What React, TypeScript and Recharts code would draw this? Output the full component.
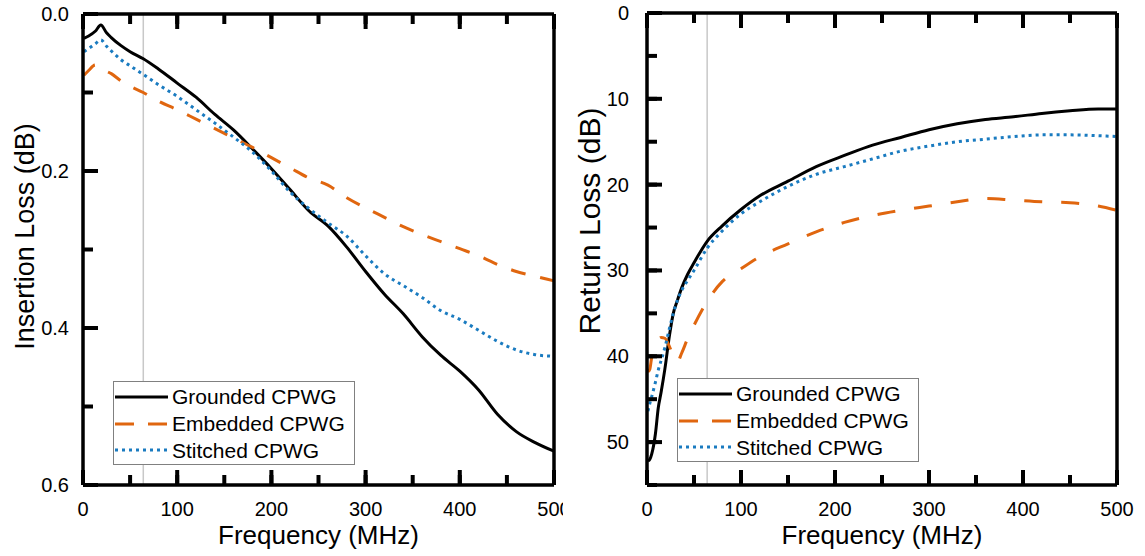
import React from 'react';
import { LineChart, Line, XAxis, YAxis, ReferenceLine, Legend, Label } from 'recharts';

const FONT = '"Liberation Sans", Arial, Helvetica, sans-serif';

// ─── Data ─────────────────────────────────────────────────────────────────────

const SERIES_NAMES = ['Grounded CPWG', 'Embedded CPWG', 'Stitched CPWG'];

// Insertion loss (dB), left panel
const IL_FREQ = [1, 6, 13, 19, 25, 30, 40, 50, 64, 80, 100, 120, 140, 160, 180, 200, 220, 240, 260, 280, 300, 320, 340, 360, 380, 400, 420, 440, 460, 480, 500];
const IL_GROUNDED = [0.031, 0.028, 0.022, 0.014, 0.024, 0.030, 0.040, 0.048, 0.057, 0.070, 0.088, 0.106, 0.128, 0.148, 0.172, 0.197, 0.224, 0.251, 0.270, 0.297, 0.328, 0.357, 0.382, 0.411, 0.435, 0.455, 0.479, 0.510, 0.532, 0.546, 0.557];
const IL_EMBEDDED = [0.078, 0.072, 0.065, 0.069, 0.073, 0.076, 0.085, 0.092, 0.100, 0.111, 0.122, 0.134, 0.146, 0.158, 0.170, 0.183, 0.196, 0.209, 0.218, 0.234, 0.247, 0.259, 0.271, 0.281, 0.290, 0.299, 0.308, 0.319, 0.328, 0.334, 0.340];
const IL_STITCHED = [0.048, 0.044, 0.038, 0.033, 0.041, 0.047, 0.058, 0.066, 0.077, 0.090, 0.105, 0.122, 0.139, 0.157, 0.176, 0.200, 0.227, 0.248, 0.266, 0.283, 0.308, 0.331, 0.346, 0.361, 0.378, 0.389, 0.403, 0.417, 0.428, 0.434, 0.436];

// Return loss (dB), right panel
const RL_FREQ = [1, 3, 5, 9, 12, 15, 19, 24, 28, 32, 37, 43, 50, 64, 80, 100, 120, 150, 180, 210, 240, 270, 300, 330, 360, 390, 420, 450, 480, 500];
const RL_GROUNDED = [52.2, 52.0, 51.4, 49.0, 46.0, 44.2, 41.5, 37.5, 35.0, 33.6, 32.0, 30.5, 29.1, 26.6, 24.8, 22.9, 21.3, 19.6, 17.9, 16.6, 15.4, 14.5, 13.6, 12.9, 12.4, 12.1, 11.7, 11.4, 11.2, 11.2];
const RL_EMBEDDED = [41.8, 41.5, 40.1, 38.5, 38.0, 37.8, 37.9, 38.9, 40.0, 40.7, 39.6, 38.0, 36.4, 33.6, 31.3, 29.8, 28.4, 26.9, 25.5, 24.4, 23.6, 23.0, 22.5, 22.0, 21.6, 21.8, 22.0, 22.1, 22.5, 23.0];
const RL_STITCHED = [46.4, 45.5, 44.7, 43.0, 41.6, 40.5, 39.0, 36.7, 35.0, 33.6, 32.3, 31.2, 30.0, 27.4, 25.4, 23.4, 22.0, 20.2, 18.8, 17.9, 17.0, 16.1, 15.5, 15.0, 14.7, 14.4, 14.2, 14.2, 14.3, 14.4];

// Axis ticks
const FREQ_TICKS = [0, 50, 100, 150, 200, 250, 300, 350, 400, 450, 500];
const IL_TICKS = [0, 0.1, 0.2, 0.3, 0.4, 0.5, 0.6];
const RL_TICKS = [0, 5, 10, 15, 20, 25, 30, 35, 40, 45, 50, 55];
const MARKER_FREQ = 64;

const buildRows = (freq: number[], g: number[], e: number[], s: number[]) =>
  freq.map((f, i) => ({ f, g: g[i], e: e[i], s: s[i] }));

const IL_ROWS = buildRows(IL_FREQ, IL_GROUNDED, IL_EMBEDDED, IL_STITCHED);
const RL_ROWS = buildRows(RL_FREQ, RL_GROUNDED, RL_EMBEDDED, RL_STITCHED);

const SERIES = [
  { key: 'g', name: SERIES_NAMES[0], color: '#000000', legendDash: undefined as string | undefined },
  { key: 'e', name: SERIES_NAMES[1], color: '#E0660F', legendDash: '19 14' },
  { key: 's', name: SERIES_NAMES[2], color: '#1A7BC0', legendDash: '3 4' },
];

// ─── Ticks (drawn inward, like the original) ──────────────────────────────────
// recharts draws every tick inward (negative tickSize); the custom tick adds
// the longer major mark and the label.

type Side = 'bottom' | 'top' | 'left' | 'right';
const MINOR_LEN = 10;
const MAJOR_LEN = 15;
const TICK_LINE = { stroke: '#000', strokeWidth: 4 };
const AXIS_LINE = { stroke: '#000', strokeWidth: 3.5 };

function tickRenderer(side: Side, isMajor: (v: number) => boolean, format?: (v: number) => string, gap = 15) {
  return (props: any) => {
    const { x, y, payload } = props;
    const v = payload.value as number;
    const major = isMajor(v);
    let d = '';
    if (side === 'bottom') d = `M${x},${y}V${y - MAJOR_LEN}`;
    if (side === 'top') d = `M${x},${y}V${y + MAJOR_LEN}`;
    if (side === 'left') d = `M${x},${y}H${x + MAJOR_LEN}`;
    if (side === 'right') d = `M${x},${y}H${x - MAJOR_LEN}`;
    const showLabel = !!format && major;
    return (
      <g>
        {major && <path d={d} stroke="#000" strokeWidth={4} fill="none" />}
        {showLabel && side === 'bottom' && (
          <text x={x} y={y + 31} textAnchor="middle" fontSize={20} fontFamily={FONT} fill="#000">
            {format!(v)}
          </text>
        )}
        {showLabel && side === 'left' && (
          <text x={x - gap} y={y + 7} textAnchor="end" fontSize={20} fontFamily={FONT} fill="#000">
            {format!(v)}
          </text>
        )}
      </g>
    );
  };
}

const freqMajor = (v: number) => v % 100 === 0;

// ─── Legend ───────────────────────────────────────────────────────────────────

function LegendBox({ lineDashes }: { lineDashes: (string | undefined)[] }) {
  return (
    <div
      style={{
        width: 242, height: 84, border: '1px solid #808080', background: '#fff',
        boxSizing: 'border-box', paddingTop: 1.5, fontFamily: FONT, fontSize: 21, color: '#000',
      }}
    >
      {SERIES.map((s, i) => (
        <div key={s.key} style={{ display: 'flex', alignItems: 'center', height: 26.7 }}>
          <svg width={57} height={26} style={{ display: 'block' }}>
            <line x1={1} y1={13} x2={54} y2={13} stroke={s.color} strokeWidth={3} strokeDasharray={lineDashes[i]} />
          </svg>
          <span style={{ marginLeft: 1, lineHeight: 1, whiteSpace: 'nowrap' }}>{s.name}</span>
        </div>
      ))}
    </div>
  );
}

// ─── Panel ────────────────────────────────────────────────────────────────────

type PanelProps = {
  rows: typeof IL_ROWS;
  width: number;
  margin: { top: number; right: number; bottom: number; left: number };
  yAxisWidth: number;
  yDomain: [number, number];
  yTicks: number[];
  yMajor: (v: number) => boolean;
  yFormat: (v: number) => string;
  yGap: number;
  yTitle: string;
  yTitleSize: number;
  yTitleX: number;
  yTitleDy: number;
  dashes: (string | undefined)[];
  legendPos: { left: number; top: number };
};

function Panel(p: PanelProps) {
  const xTitle = ({ viewBox }: any) => {
    const vb = viewBox || { x: 0, y: 0, width: 0, height: 0 };
    return (
      <text x={vb.x + vb.width / 2} y={vb.y + 59} textAnchor="middle" fontSize={26} fontFamily={FONT} fill="#000">
        Frequency (MHz)
      </text>
    );
  };
  const yTitle = ({ viewBox }: any) => {
    const vb = viewBox || { x: 0, y: 0, width: 0, height: 0 };
    const cx = vb.x + p.yTitleX;
    const cy = vb.y + vb.height / 2 + p.yTitleDy;
    return (
      <text
        x={cx} y={cy} textAnchor="middle" dominantBaseline="central"
        transform={`rotate(-90, ${cx}, ${cy})`} fontSize={p.yTitleSize} fontFamily={FONT} fill="#000"
      >
        {p.yTitle}
      </text>
    );
  };

  return (
    <LineChart width={p.width} height={556} data={p.rows} margin={p.margin}>
      <XAxis
        dataKey="f" type="number" domain={[0, 500]} ticks={FREQ_TICKS} interval={0}
        height={71} tickSize={-MINOR_LEN} tickMargin={MINOR_LEN} tickLine={TICK_LINE}
        axisLine={AXIS_LINE}
        tick={tickRenderer('bottom', freqMajor, (v) => String(v))}
      >
        <Label content={xTitle} />
      </XAxis>
      <XAxis
        xAxisId="top" orientation="top" dataKey="f" type="number" domain={[0, 500]} ticks={FREQ_TICKS}
        interval={0} height={1} tickSize={-MINOR_LEN} tickMargin={MINOR_LEN} tickLine={TICK_LINE}
        axisLine={AXIS_LINE}
        tick={tickRenderer('top', freqMajor)}
      />
      <YAxis
        type="number" domain={p.yDomain} ticks={p.yTicks} reversed interval={0}
        width={p.yAxisWidth} tickSize={-MINOR_LEN} tickMargin={MINOR_LEN} tickLine={TICK_LINE}
        axisLine={AXIS_LINE}
        tick={tickRenderer('left', p.yMajor, p.yFormat, p.yGap)}
      >
        <Label content={yTitle} />
      </YAxis>
      <YAxis
        yAxisId="right" orientation="right" type="number" domain={p.yDomain} ticks={p.yTicks} reversed
        interval={0} width={1} tickSize={-MINOR_LEN} tickMargin={MINOR_LEN} tickLine={TICK_LINE}
        axisLine={AXIS_LINE}
        tick={tickRenderer('right', p.yMajor)}
      />
      <ReferenceLine x={MARKER_FREQ} stroke="#C8C8C8" strokeWidth={1.5} />
      {SERIES.map((s, i) => (
        <Line
          key={s.key} type="monotone" dataKey={s.key} name={s.name} stroke={s.color}
          strokeWidth={3} strokeDasharray={p.dashes[i]} dot={false} activeDot={false}
          isAnimationActive={false}
        />
      ))}
      <Legend
        layout="vertical" align="center" verticalAlign="middle"
        wrapperStyle={{ left: p.legendPos.left, top: p.legendPos.top, width: 242, height: 84 }}
        content={() => <LegendBox lineDashes={SERIES.map((s) => s.legendDash)} />}
      />
    </LineChart>
  );
}

export default function App() {
  return (
    <div style={{ position: 'absolute', left: 0, top: 0, width: 1145, height: 556, background: '#fff' }}>
      <div style={{ position: 'absolute', left: 0, top: 0, width: 563, height: 556, overflow: 'hidden' }}>
        <Panel
          rows={IL_ROWS}
          width={563}
          margin={{ top: 13, right: 8, bottom: 0, left: 0 }}
          yAxisWidth={83}
          yDomain={[0, 0.6]}
          yTicks={IL_TICKS}
          yMajor={(v) => Math.round(v * 10) % 2 === 0}
          yFormat={(v) => v.toFixed(1)}
          yGap={14}
          yTitle="Insertion Loss (dB)"
          yTitleSize={27}
          yTitleX={25}
          yTitleDy={-13}
          dashes={[undefined, '15 15', '3 4']}
          legendPos={{ left: 113, top: 381 }}
        />
      </div>
      <div style={{ position: 'absolute', left: 563, top: 0, width: 582, height: 556, overflow: 'hidden' }}>
        <Panel
          rows={RL_ROWS}
          width={582}
          margin={{ top: 12, right: 27, bottom: 0, left: 0 }}
          yAxisWidth={84}
          yDomain={[0, 55]}
          yTicks={RL_TICKS}
          yMajor={(v) => v % 10 === 0 && v < 55}
          yFormat={(v) => String(v)}
          yGap={18}
          yTitle="Return Loss (dB)"
          yTitleSize={30}
          yTitleX={26}
          yTitleDy={-28}
          dashes={[undefined, '18 19', '3 4']}
          legendPos={{ left: 114, top: 378 }}
        />
      </div>
    </div>
  );
}
